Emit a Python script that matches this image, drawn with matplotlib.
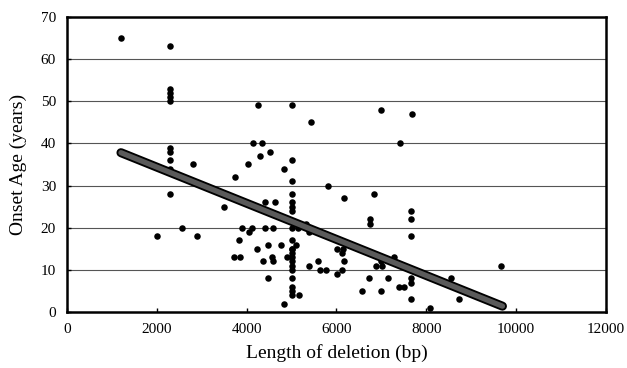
import matplotlib
matplotlib.use('Agg')
import matplotlib.pyplot as plt
import numpy as np

# deletion length (bp) and onset age (years)
length_bp = [1200, 2300, 2300, 2300, 2300, 2300, 2300, 2300, 2300, 2300, 2300,
             2000, 2550, 2800, 2900,
             3500, 3750, 3720, 3850, 3830, 3900, 4030, 4050, 4120,
             4150, 4230, 4250, 4300, 4350, 4360, 4410, 4410, 4480, 4480,
             4520, 4570, 4590, 4590, 4630, 4770, 4830, 4830, 4900,
             5000, 5000, 5000, 5000, 5000, 5000, 5000, 5000, 5000, 5000,
             5000, 5000, 5000, 5000, 5000, 5000, 5000, 5000, 5000, 5000,
             5100, 5150, 5170, 5320, 5390, 5400, 5430, 5590, 5640, 5770,
             5810, 6010, 6010, 6120, 6120, 6150, 6170, 6170,
             6570, 6730, 6750, 6750, 6840, 6880, 6990, 6990, 6990, 7020,
             7150, 7280, 7390, 7420, 7500, 7660, 7660, 7660, 7660, 7660,
             7660, 7680, 8080, 8550, 8730, 9670]
onset_age = [65, 63, 53, 52, 51, 50, 39, 38, 36, 34, 28,
             18, 20, 35, 18,
             25, 32, 13, 13, 17, 20, 35, 19, 20,
             40, 15, 49, 37, 40, 12, 20, 26, 16, 8,
             38, 13, 20, 12, 26, 16, 34, 2, 13,
             49, 36, 31, 28, 26, 25, 24, 20, 17, 15,
             14, 13, 12, 11, 10, 8, 6, 5, 15, 4,
             16, 20, 4, 21, 19, 11, 45, 12, 10, 10,
             30, 9, 15, 14, 10, 15, 27, 12,
             5, 8, 22, 21, 28, 11, 48, 12, 5, 11,
             8, 13, 6, 40, 6, 24, 22, 18, 8, 7,
             3, 47, 1, 8, 3, 11]

# trend line end points
fit_x = [1200, 9700]
fit_y = [37.8, 1.4]

plt.rcParams['font.family'] = ['Liberation Serif', 'DejaVu Serif']

fig = plt.figure(figsize=(6.27, 3.68), dpi=100)
ax = fig.add_axes([0.107, 0.152, 0.859, 0.802])

for y in range(10, 70, 10):
    ax.axhline(y, color='#555555', lw=0.8, zorder=1)

ax.scatter(length_bp, onset_age, s=22, color='black', zorder=3, linewidths=0)
ax.plot(fit_x, fit_y, color='black', lw=6.5, solid_capstyle='round', zorder=4)
ax.plot(fit_x, fit_y, color='#5a5a5a', lw=3.8, solid_capstyle='round', zorder=5)

ax.set_xlim(0, 12000)
ax.set_ylim(0, 70)
ax.set_xticks(range(0, 12001, 2000))
ax.set_yticks(range(0, 71, 10))
ax.tick_params(direction='in', length=3, labelsize=11, width=1)
ax.tick_params(axis='x', pad=8)
ax.tick_params(axis='y', pad=8)
for s in ax.spines.values():
    s.set_linewidth(1.8)

ax.set_xlabel('Length of deletion (bp)', fontsize=14, labelpad=6)
ax.set_ylabel('Onset Age (years)', fontsize=14, labelpad=10)

fig.savefig('out.png', dpi=100)
